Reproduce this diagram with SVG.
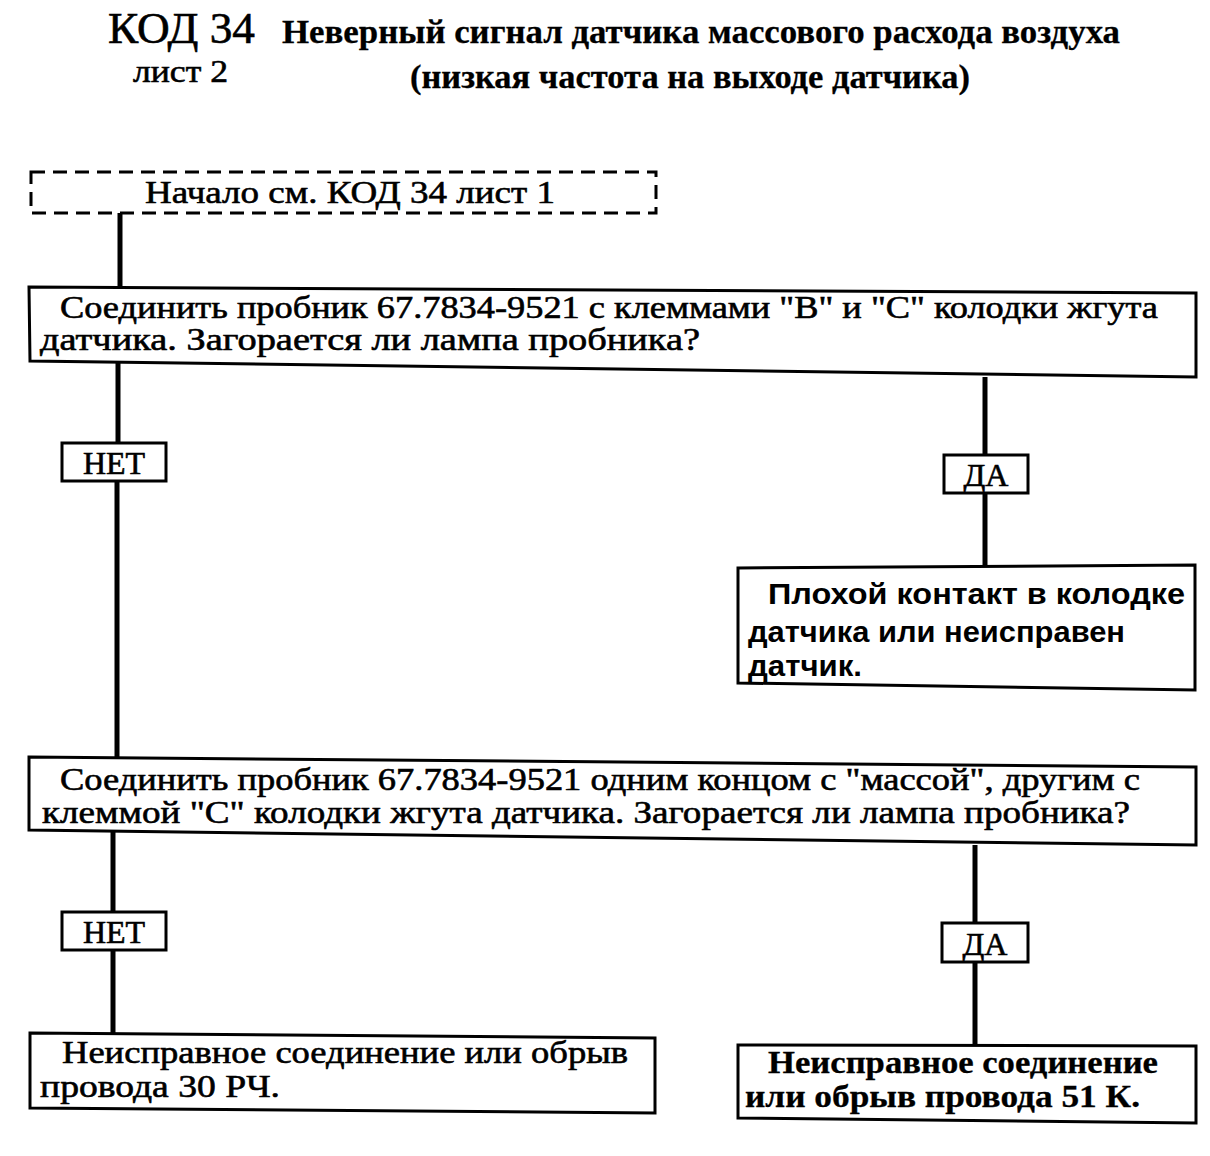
<svg xmlns="http://www.w3.org/2000/svg" width="1210" height="1156" viewBox="0 0 1210 1156">
<style>
.bg{fill:#fff}
.box{fill:#fff;stroke:#000;stroke-width:3}
.dash{fill:none;stroke:#000;stroke-width:3;stroke-dasharray:14 8}
.con{stroke:#000;stroke-width:5;fill:none}
.t{font-family:"Liberation Serif","Times New Roman",serif;fill:#000;stroke:#000;stroke-width:0.6}
.b{font-weight:bold;stroke-width:0.3}
.s{font-family:"Liberation Sans",Arial,sans-serif;font-weight:bold;fill:#000}
</style>
<rect class="bg" x="0" y="0" width="1210" height="1156"/>
<g id="title">
<text class="t" x="108" y="43" font-size="44" textLength="147" lengthAdjust="spacingAndGlyphs">КОД 34</text>
<text class="t b" x="282" y="43" font-size="34" textLength="838" lengthAdjust="spacingAndGlyphs">Неверный сигнал датчика массового расхода воздуха</text>
<text class="t" x="133" y="82" font-size="32" textLength="95" lengthAdjust="spacingAndGlyphs">лист 2</text>
<text class="t b" x="410" y="88" font-size="34" textLength="560" lengthAdjust="spacingAndGlyphs">(низкая частота на выходе датчика)</text>
</g>
<g id="connectors">
<line class="con" x1="120" y1="213" x2="120" y2="288"/>
<line class="con" x1="118" y1="361" x2="118" y2="443"/>
<line class="con" x1="117" y1="481" x2="117" y2="757"/>
<line class="con" x1="985" y1="377" x2="985" y2="455"/>
<line class="con" x1="985" y1="493" x2="985" y2="567"/>
<line class="con" x1="113" y1="830" x2="113" y2="912"/>
<line class="con" x1="113" y1="950" x2="113" y2="1034"/>
<line class="con" x1="975" y1="845" x2="975" y2="923"/>
<line class="con" x1="975" y1="962" x2="975" y2="1045"/>
</g>
<g id="start">
<rect class="dash" x="31" y="172" width="625" height="41"/>
<text class="t" x="145" y="203" font-size="32" textLength="410" lengthAdjust="spacingAndGlyphs">Начало см. КОД 34 лист 1</text>
</g>
<g id="q1">
<polygon class="box" points="29,287 1196,293 1196,377 30,361"/>
<text class="t" x="60" y="318" font-size="31" textLength="1098" lengthAdjust="spacingAndGlyphs">Соединить пробник 67.7834-9521 с клеммами "В" и "С" колодки жгута</text>
<text class="t" x="40" y="350" font-size="31" textLength="660" lengthAdjust="spacingAndGlyphs">датчика. Загорается ли лампа пробника?</text>
</g>
<g id="no1">
<rect class="box" x="62" y="443" width="104" height="38"/>
<text class="t" x="114" y="474" font-size="32" text-anchor="middle">НЕТ</text>
</g>
<g id="yes1">
<rect class="box" x="944" y="455" width="84" height="38"/>
<text class="t" x="986" y="486" font-size="32" text-anchor="middle">ДА</text>
</g>
<g id="r1">
<polygon class="box" points="738,568 1195,565 1195,690 738,683"/>
<text class="s" x="768" y="604" font-size="29" textLength="417" lengthAdjust="spacingAndGlyphs">Плохой контакт в колодке</text>
<text class="s" x="748" y="642" font-size="29" textLength="377" lengthAdjust="spacingAndGlyphs">датчика или неисправен</text>
<text class="s" x="748" y="676" font-size="29" textLength="114" lengthAdjust="spacingAndGlyphs">датчик.</text>
</g>
<g id="q2">
<polygon class="box" points="29,757 1196,767 1196,845 29,830"/>
<text class="t" x="60" y="790" font-size="31" textLength="1080" lengthAdjust="spacingAndGlyphs">Соединить пробник 67.7834-9521 одним концом с "массой", другим с</text>
<text class="t" x="42" y="823" font-size="31" textLength="1088" lengthAdjust="spacingAndGlyphs">клеммой "С" колодки жгута датчика. Загорается ли лампа пробника?</text>
</g>
<g id="no2">
<rect class="box" x="62" y="912" width="104" height="38"/>
<text class="t" x="114" y="943" font-size="32" text-anchor="middle">НЕТ</text>
</g>
<g id="yes2">
<rect class="box" x="942" y="923" width="86" height="39"/>
<text class="t" x="985" y="955" font-size="32" text-anchor="middle">ДА</text>
</g>
<g id="r2">
<polygon class="box" points="30,1033 655,1038 655,1113 30,1108"/>
<text class="t" x="62" y="1063" font-size="31" textLength="566" lengthAdjust="spacingAndGlyphs">Неисправное соединение или обрыв</text>
<text class="t" x="40" y="1097" font-size="31" textLength="240" lengthAdjust="spacingAndGlyphs">провода 30 РЧ.</text>
</g>
<g id="r3">
<polygon class="box" points="738,1045 1196,1046 1196,1123 738,1118"/>
<text class="t b" x="768" y="1073" font-size="31" textLength="390" lengthAdjust="spacingAndGlyphs">Неисправное соединение</text>
<text class="t b" x="745" y="1107" font-size="31" textLength="395" lengthAdjust="spacingAndGlyphs">или обрыв провода 51 К.</text>
</g>
</svg>
